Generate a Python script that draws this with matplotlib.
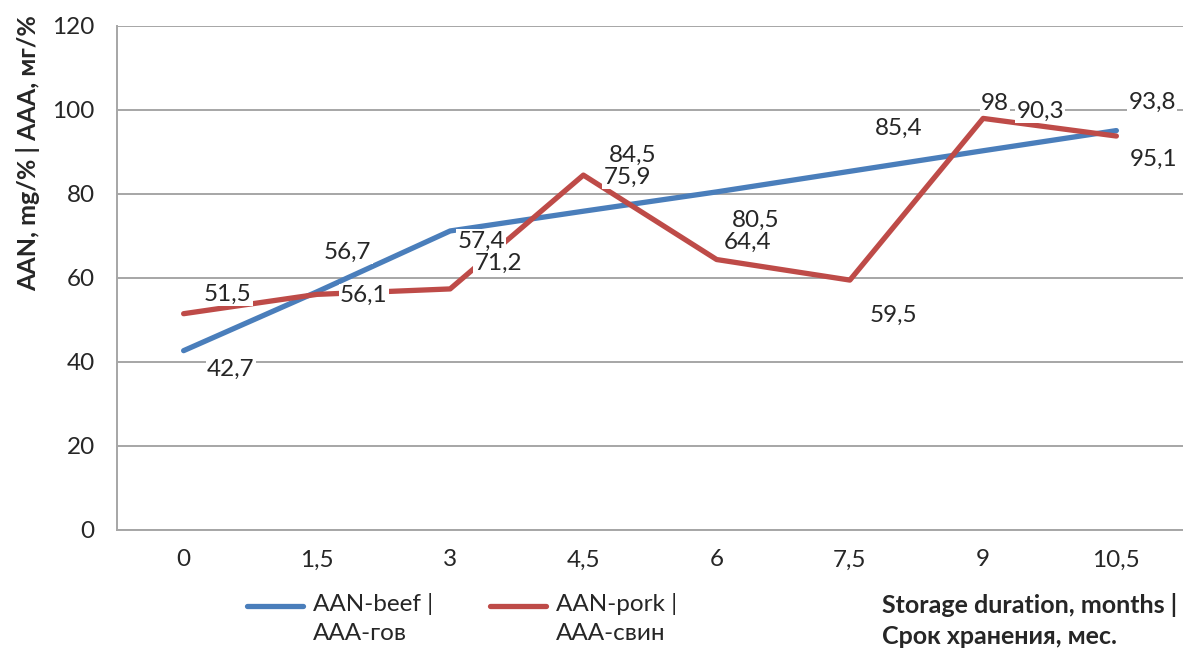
import numpy as np
import matplotlib.pyplot as plt
from matplotlib.lines import Line2D

plt.rcParams['font.family'] = ['Lato', 'DejaVu Sans']

# storage time, months
months = ['0', '1,5', '3', '4,5', '6', '7,5', '9', '10,5']
beef = [42.7, 56.7, 71.2, 75.9, 80.5, 85.4, 90.3, 95.1]
pork = [51.5, 56.1, 57.4, 84.5, 64.4, 59.5, 98, 93.8]

# label offsets (pixels) for each point
beef_off = [(47, -19), (31, 40), (48, -32), (44, 34), (39, -28), (49, 43), (57, 39), (37, -29)]
pork_off = [(44, 19), (47, -1), (31, 48), (49, 20), (31, 17), (44, -35), (12, 15), (36, 34)]

blue = '#4A7EBB'
red = '#BE4B48'
txt = '#262626'
grid = '#A6A6A6'

fig = plt.figure(figsize=(11.83, 6.48), dpi=100)
ax = fig.add_axes([117/1183, 1-530/648, 1-117/1183, (530-26)/648])

x = np.arange(len(months))
ax.plot(x, beef, color=blue, lw=3.8, solid_capstyle='round', zorder=3)
ax.plot(x, pork, color=red, lw=3.8, solid_capstyle='round', zorder=3)

def label(vals, offs):
    for xi, v, (dx, dy) in zip(x, vals, offs):
        s = ('%g' % v).replace('.', ',')
        ax.annotate(s, (xi, v), xytext=(dx, dy), textcoords='offset pixels',
                    ha='center', va='center', fontsize=17.5, color=txt, zorder=4,
                    bbox=dict(boxstyle='square,pad=0.05', fc='white', ec='none'))

label(beef, beef_off)
label(pork, pork_off)

ax.set_xlim(-0.5, len(months) - 0.5)
ax.set_ylim(0, 120)
ax.set_yticks(np.arange(0, 121, 20))
ax.set_xticks(x)
ax.set_xticklabels(months)
ax.tick_params(length=0, labelsize=17.5, labelcolor=txt)
ax.tick_params(axis='x', pad=14)
ax.tick_params(axis='y', pad=16)
ax.yaxis.grid(True, color=grid, lw=1.4)
ax.set_axisbelow(True)
for s in ['top', 'right']:
    ax.spines[s].set_visible(False)
ax.spines['left'].set_color(grid)
ax.spines['bottom'].set_color(grid)
ax.spines['left'].set_linewidth(1.4)
ax.spines['bottom'].set_linewidth(1.4)

fig.text(28/1183, 1-153/648, 'AAN, mg/% | AAA, мг/%', rotation=90, ha='center', va='center',
         fontsize=18, fontweight='bold', color=txt)

# legend drawn by hand so the handle sits beside the first line
for x0, col, lab in [(247, blue, 'AAN-beef |\nAAA-гов'), (490, red, 'AAN-pork |\nAAA-свин')]:
    fig.add_artist(Line2D([x0/1183, (x0+56)/1183], [1-606/648]*2, color=col, lw=3.8,
                          solid_capstyle='round'))
    fig.text((x0+66)/1183, 1-593/648, lab, ha='left', va='top', fontsize=17.5, color=txt,
             linespacing=1.45)

fig.text(882/1183, 1-593/648, 'Storage duration, months |\nСрок хранения, мес.', ha='left', va='top',
         fontsize=18, fontweight='bold', color=txt, linespacing=1.42)

fig.savefig('out.png', dpi=100)
